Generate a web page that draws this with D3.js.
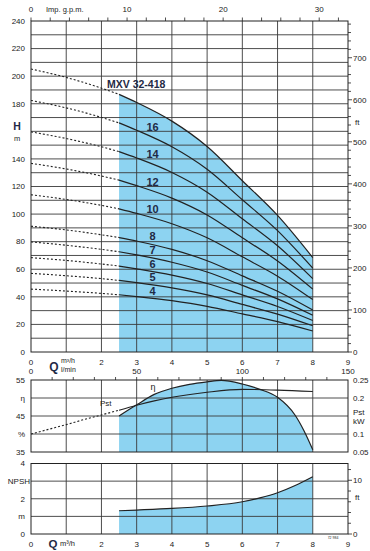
<!DOCTYPE html>
<html><head><meta charset="utf-8">
<script src="https://cdn.jsdelivr.net/npm/d3@7"></script>
<style>html,body{margin:0;padding:0;background:#fff;}svg{display:block;font-family:"Liberation Sans",Arial,sans-serif;}</style>
</head><body>
<svg id="c" width="370" height="551"></svg>
<script>
// ---------- data ----------
const modelName = "MXV 32-418";
const flowQ = [0, 1, 2, 2.5, 3, 4, 5, 6, 7, 8];           // m3/h
const stages = [18, 16, 14, 12, 10, 8, 7, 6, 5, 4];
const head18 = [205.2, 199.1, 191.3, 186.8, 180.9, 167.4, 149.0, 124.2, 99.0, 68.4];
const head16 = [182.4, 177.0, 170.1, 166.1, 160.8, 148.8, 132.5, 110.4, 88.0, 60.8];
const head14 = [159.6, 154.8, 148.8, 145.3, 140.7, 130.2, 115.9, 96.6, 77.0, 53.2];
const head12 = [136.8, 132.7, 127.6, 124.6, 120.6, 111.6, 99.4, 82.8, 66.0, 45.6];
const head10 = [114.0, 110.6, 106.3, 103.8, 100.5, 93.0, 82.8, 69.0, 55.0, 38.0];
const head8  = [91.2, 88.5, 85.0, 83.0, 80.4, 74.4, 66.2, 55.2, 44.0, 30.4];
const head7  = [79.8, 77.4, 74.4, 72.7, 70.4, 65.1, 58.0, 48.3, 38.5, 26.6];
const head6  = [68.4, 66.4, 63.8, 62.3, 60.3, 55.8, 49.7, 41.4, 33.0, 22.8];
const head5  = [57.0, 55.3, 53.2, 51.9, 50.3, 46.5, 41.4, 34.5, 27.5, 19.0];
const head4  = [45.6, 44.2, 42.5, 41.5, 40.2, 37.2, 33.1, 27.6, 22.0, 15.2];
const heads = [head18, head16, head14, head12, head10, head8, head7, head6, head5, head4];
const curveLabels = ["", "16", "14", "12", "10", "8", "7", "6", "5", "4"];
const qMin = 2.5, qMax = 8;

const etaQ = [2.5, 3, 3.5, 4, 4.5, 5, 5.4, 6, 6.5, 7, 7.5, 7.75, 8];
const etaVal = [45, 48.1, 51.0, 52.7, 53.8, 54.5, 54.9, 53.9, 52.4, 50.2, 45.2, 40.9, 35.6];
const pstQ = [0, 0.5, 1, 1.5, 2, 2.5, 3, 3.5, 4, 5, 6, 7, 8];
const pstVal = [0.100, 0.113, 0.126, 0.140, 0.153, 0.166, 0.180, 0.192, 0.202, 0.216, 0.224, 0.222, 0.218];
const npshQ = [2.5, 3, 4, 5, 6, 6.5, 7, 7.5, 8];
const npshVal = [1.32, 1.36, 1.45, 1.59, 1.83, 2.05, 2.34, 2.75, 3.25];

const qTickLabels = ["0", "", "2", "3", "4", "5", "6", "7", "8", "9"];
const gpmLabels = [0, 10, 20, 30];
const lminLabels = [0, 50, 100, 150];
const hLeft = [["240", 240], ["220", 220], ["200", 200], ["180", 180], ["140", 140], ["120", 120],
  ["100", 100], ["80", 80], ["60", 60], ["40", 40], ["20", 20], ["0", 0]];
const ftTicks = [0, 100, 200, 300, 400, 500, 600, 700];
const etaLeft = [["55", 55], ["η", 50], ["45", 45], ["%", 40], ["35", 35]];
const pstRight = [["0.25", 0.25], ["0.2", 0.2], ["0.1", 0.1], ["0.05", 0.05]];
const npshLeft = [["4", 4], ["NPSH", 3], ["2", 2], ["m", 1], ["0", 0]];

// ---------- setup ----------
const svg = d3.select("#c");
const blue = "#8dd3f1", grid = "#3a3a3a", ink = "#222", labelInk = "#1f2a45";
const X0 = 31, X1 = 348;
const x = d3.scaleLinear().domain([0, 9]).range([X0, X1]);
const xGpm = d3.scaleLinear().domain([0, 9 * 3.6662]).range([X0, X1]);
const xLmin = d3.scaleLinear().domain([0, 150]).range([X0, X1]);
const yH = d3.scaleLinear().domain([0, 240]).range([352, 21]);
const yFt = d3.scaleLinear().domain([0, 240 / 0.3048]).range([352, 21]);
const yEta = d3.scaleLinear().domain([35, 55]).range([452, 380]);
const yPst = d3.scaleLinear().domain([0.05, 0.25]).range([452, 380]);
const yN = d3.scaleLinear().domain([0, 4]).range([534, 463.5]);
const yNft = d3.scaleLinear().domain([0, 4 / 0.3048]).range([534, 463.5]);

function txt(t, px, py, opt = {}) {
  return svg.append("text").attr("x", px).attr("y", py).attr("dy", "0.35em")
    .attr("font-size", opt.size || 8).attr("font-weight", opt.bold ? "bold" : "normal")
    .attr("text-anchor", opt.anchor || "middle").attr("fill", opt.fill || ink).text(t);
}
function pts(qs, vs) { return qs.map((q, i) => [q, vs[i]]); }
function interp(qs, vs, q) {
  for (let i = 0; i < qs.length - 1; i++) if (q >= qs[i] && q <= qs[i + 1]) {
    const t = (q - qs[i]) / (qs[i + 1] - qs[i]); return vs[i] + t * (vs[i + 1] - vs[i]);
  }
  return vs[vs.length - 1];
}
const curve = d3.curveMonotoneX;

function gridBox(yTop, yBot, hVals, yScale) {
  const g = svg.append("g");
  hVals.forEach(v => g.append("line").attr("x1", X0).attr("x2", X1)
    .attr("y1", yScale(v)).attr("y2", yScale(v)).attr("stroke", grid).attr("stroke-width", 0.9));
  d3.range(1, 9).forEach(q => g.append("line").attr("x1", x(q)).attr("x2", x(q))
    .attr("y1", yTop).attr("y2", yBot).attr("stroke", grid).attr("stroke-width", 0.9));
  g.append("rect").attr("x", X0).attr("y", yTop).attr("width", X1 - X0).attr("height", yBot - yTop)
    .attr("fill", "none").attr("stroke", ink).attr("stroke-width", 1);
}

// ---------- top chart: H ----------
const envSolid = pts(flowQ, head18).filter(d => d[0] >= qMin);
const areaTop = d3.area().x(d => x(d[0])).y0(yH(0)).y1(d => yH(d[1])).curve(curve);
svg.append("path").attr("d", areaTop(envSolid)).attr("fill", blue);
gridBox(yH(240), yH(0), d3.range(10, 240, 10), yH);

const lineH = d3.line().x(d => x(d[0])).y(d => yH(d[1])).curve(curve);
heads.forEach((hs, i) => {
  const all = pts(flowQ, hs);
  svg.append("path").attr("d", lineH(all.filter(d => d[0] <= qMin)))
    .attr("fill", "none").attr("stroke", ink).attr("stroke-width", 1.1).attr("stroke-dasharray", "2,2");
  svg.append("path").attr("d", lineH(all.filter(d => d[0] >= qMin)))
    .attr("fill", "none").attr("stroke", ink).attr("stroke-width", 1.2);
  if (curveLabels[i]) {
    const lq = 3.45;
    const cy = yH(interp(flowQ, hs, lq));
    txt(curveLabels[i], x(lq), cy - (6 + 0.3 * stages[i]), { size: 11, bold: true, fill: labelInk });
  }
});
txt(modelName, 107, 84, { size: 10.5, bold: true, anchor: "start", fill: labelInk });

// left H axis labels
hLeft.forEach(([t, v]) => txt(t, 25, yH(v), { anchor: "end" }));
txt("H", 17, 126, { size: 10.5, bold: true, fill: labelInk });
txt("m", 17, 138, { size: 7.5 });

// top gpm axis
d3.range(0, 33, 2).forEach(v => svg.append("line").attr("x1", xGpm(v)).attr("x2", xGpm(v))
  .attr("y1", 21).attr("y2", 17.5).attr("stroke", ink).attr("stroke-width", 0.8));
gpmLabels.forEach(v => txt(String(v), xGpm(v), 9));
txt("Imp. g.p.m.", 46, 9, { anchor: "start", size: 7.5 });

// right ft axis
d3.range(0, 781, 20).forEach(v => svg.append("line").attr("x1", X1).attr("x2", X1 + (v % 100 === 0 ? 4 : 3))
  .attr("y1", yFt(v)).attr("y2", yFt(v)).attr("stroke", ink).attr("stroke-width", 0.8));
ftTicks.forEach(v => txt(String(v), 353, yFt(v), { anchor: "start" }));
txt("ft", 355, 122, { anchor: "start" });

// bottom Q axis of top chart
qTickLabels.forEach((t, i) => { if (t) txt(t, x(i), 362); });
txt("Q", 54, 367, { size: 12, bold: true, fill: labelInk });
txt("m³/h", 61, 361, { anchor: "start", size: 7 });
txt("l/min", 61, 370, { anchor: "start", size: 7 });
lminLabels.forEach(v => txt(String(v), xLmin(v), 371));

// ---------- efficiency / power chart ----------
const areaEta = d3.area().x(d => x(d[0])).y0(yEta(35)).y1(d => yEta(d[1])).curve(curve);
svg.append("path").attr("d", areaEta(pts(etaQ, etaVal))).attr("fill", blue);
gridBox(yEta(55), yEta(35), [40, 45, 50], yEta);
d3.range(10, 150, 10).forEach(v => svg.append("line").attr("x1", xLmin(v)).attr("x2", xLmin(v))
  .attr("y1", 380).attr("y2", 377).attr("stroke", ink).attr("stroke-width", 0.8));
svg.append("path").attr("d", d3.line().x(d => x(d[0])).y(d => yEta(d[1])).curve(curve)(pts(etaQ, etaVal)))
  .attr("fill", "none").attr("stroke", ink).attr("stroke-width", 1.2);
const linePst = d3.line().x(d => x(d[0])).y(d => yPst(d[1])).curve(curve);
const pstAll = pts(pstQ, pstVal);
svg.append("path").attr("d", linePst(pstAll.filter(d => d[0] <= qMin)))
  .attr("fill", "none").attr("stroke", ink).attr("stroke-width", 1.1).attr("stroke-dasharray", "2,2");
svg.append("path").attr("d", linePst(pstAll.filter(d => d[0] >= qMin)))
  .attr("fill", "none").attr("stroke", ink).attr("stroke-width", 1.1);
txt("η", 153, 387, { size: 9 });
txt("Pst", 100, 403, { anchor: "start", size: 8 });
etaLeft.forEach(([t, v]) => txt(t, 25, yEta(v), { anchor: "end" }));
pstRight.forEach(([t, v]) => txt(t, 353, yPst(v), { anchor: "start" }));
txt("Pst", 353, 412, { anchor: "start" });
txt("kW", 353, 421, { anchor: "start" });

// ---------- NPSH chart ----------
const areaN = d3.area().x(d => x(d[0])).y0(yN(0)).y1(d => yN(d[1])).curve(curve);
svg.append("path").attr("d", areaN(pts(npshQ, npshVal))).attr("fill", blue);
gridBox(yN(4), yN(0), [1, 2, 3], yN);
svg.append("path").attr("d", d3.line().x(d => x(d[0])).y(d => yN(d[1])).curve(curve)(pts(npshQ, npshVal)))
  .attr("fill", "none").attr("stroke", ink).attr("stroke-width", 1.2);
npshLeft.forEach(([t, v]) => txt(t, t === "NPSH" ? 30 : 25, yN(v), { anchor: "end" }));
d3.range(0, 13, 2).forEach(v => svg.append("line").attr("x1", X1).attr("x2", X1 + (v % 10 === 0 ? 4 : 3))
  .attr("y1", yNft(v)).attr("y2", yNft(v)).attr("stroke", ink).attr("stroke-width", 0.8));
txt("10", 353, yNft(10), { anchor: "start" });
txt("0", 353, yNft(0), { anchor: "start" });
txt("ft", 355, 497, { anchor: "start" });
qTickLabels.forEach((t, i) => { if (t) txt(t, x(i), 544); });
txt("Q", 53, 543.5, { size: 11.5, bold: true, fill: labelInk });
txt("m³/h", 60, 543, { anchor: "start", size: 7.5 });
txt("72 984", 333, 538, { size: 3.5 });
</script>
</body></html>
